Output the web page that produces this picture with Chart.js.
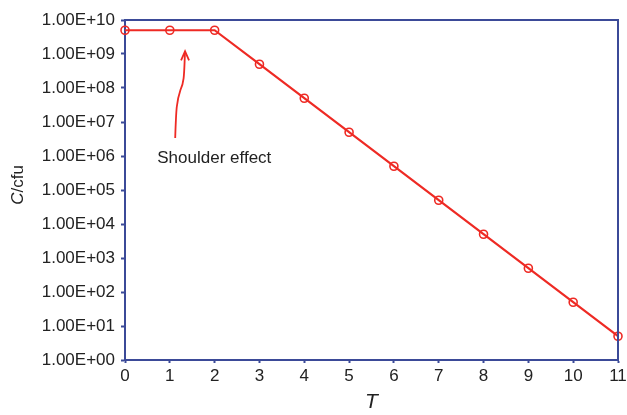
<!DOCTYPE html>
<html>
<head>
<meta charset="utf-8">
<script src="https://cdn.jsdelivr.net/npm/chart.js@4/dist/chart.umd.min.js"></script>
<style>
  html, body { margin: 0; padding: 0; background: #fff; }
  #wrap { width: 627px; height: 415px; }
</style>
</head>
<body>
<div id="wrap"><canvas id="survivalChart"></canvas></div>
<script>
// данные графика
const times = [0, 1, 2, 3, 4, 5, 6, 7, 8, 9, 10, 11];
const counts = [5e9, 5e9, 5e9, 5e8, 5e7, 5e6, 5e5, 5e4, 5e3, 5e2, 5e1, 5e0];
const yTickValues = [1e0, 1e1, 1e2, 1e3, 1e4, 1e5, 1e6, 1e7, 1e8, 1e9, 1e10];
const xTickValues = [0, 1, 2, 3, 4, 5, 6, 7, 8, 9, 10, 11];
const noteText = 'Shoulder effect';

const axisColor = '#3b4a98';
const lineColor = '#ee2a24';
const fontFamily = '"Liberation Sans", Arial, sans-serif';

// рамка, подписи осей и стрелка
const extras = {
  id: 'extras',
  afterDraw(chart) {
    const ctx = chart.ctx;
    const a = chart.chartArea;
    const xs = chart.scales.x, ys = chart.scales.y;
    ctx.save();
    ctx.strokeStyle = axisColor;
    ctx.lineWidth = 2;
    ctx.beginPath();
    ctx.moveTo(a.left, a.top);
    ctx.lineTo(a.right, a.top);
    ctx.lineTo(a.right, a.bottom);
    ctx.stroke();

    ctx.fillStyle = '#222';
    // подпись оси X
    ctx.font = 'italic 21px ' + fontFamily;
    ctx.textAlign = 'center';
    ctx.textBaseline = 'middle';
    ctx.fillText('T', (a.left + a.right) / 2, 402);

    // подпись оси Y: C курсивом
    ctx.translate(18, 185);
    ctx.rotate(-Math.PI / 2);
    ctx.font = 'italic 17px ' + fontFamily;
    const wC = ctx.measureText('C').width;
    ctx.font = '17px ' + fontFamily;
    const wRest = ctx.measureText('/cfu').width;
    const start = -(wC + wRest) / 2;
    ctx.textAlign = 'left';
    ctx.font = 'italic 17px ' + fontFamily;
    ctx.fillText('C', start, 0);
    ctx.font = '17px ' + fontFamily;
    ctx.fillText('/cfu', start + wC, 0);
    ctx.setTransform(1, 0, 0, 1, 0, 0);

    // аннотация
    ctx.font = '17px ' + fontFamily;
    ctx.textAlign = 'left';
    ctx.fillText(noteText, xs.getPixelForValue(0.72), ys.getPixelForValue(8.5e5));

    const x0 = xs.getPixelForValue(1.12), y0 = ys.getPixelForValue(3.4e6);
    const xc = xs.getPixelForValue(1.24), yc = ys.getPixelForValue(9e7);
    const x1 = xs.getPixelForValue(1.34), y1 = ys.getPixelForValue(1.2e9);
    ctx.strokeStyle = lineColor;
    ctx.lineWidth = 1.8;
    ctx.beginPath();
    ctx.moveTo(x0, y0);
    ctx.bezierCurveTo(x0 + 1, y0 - 30, xc - 4, yc + 12, xc, yc);
    ctx.bezierCurveTo(xc + 4, yc - 8, x1 - 1, y1 + 20, x1, y1);
    ctx.stroke();
    ctx.beginPath();
    ctx.moveTo(x1 - 4, y1 + 9);
    ctx.lineTo(x1, y1);
    ctx.lineTo(x1 + 4, y1 + 9);
    ctx.stroke();
    ctx.restore();
  }
};

const ctx = document.getElementById('survivalChart').getContext('2d');
new Chart(ctx, {
  type: 'line',
  data: {
    datasets: [{
      data: times.map((t, i) => ({ x: t, y: counts[i] })),
      borderColor: lineColor,
      borderWidth: 2.2,
      pointStyle: 'circle',
      pointRadius: 4,
      pointBorderWidth: 1.6,
      pointBorderColor: lineColor,
      pointBackgroundColor: 'rgba(0,0,0,0)',
      tension: 0,
      clip: false
    }]
  },
  options: {
    responsive: true,
    maintainAspectRatio: false,
    animation: false,
    layout: { padding: { top: 20, right: 9, left: 0, bottom: 0 } },
    plugins: { legend: { display: false }, tooltip: { enabled: false } },
    scales: {
      x: {
        type: 'linear',
        min: 0,
        max: 11,
        afterBuildTicks: axis => { axis.ticks = xTickValues.map(v => ({ value: v })); },
        afterFit: axis => { axis.height = 55; axis.paddingRight = 0; axis.paddingLeft = 0; },
        grid: { drawOnChartArea: false, drawTicks: true, tickLength: 3, tickWidth: 2, color: axisColor },
        border: { color: axisColor, width: 2 },
        ticks: { color: '#222', font: { family: fontFamily, size: 17 }, padding: 3, maxRotation: 0 }
      },
      y: {
        type: 'logarithmic',
        min: 1,
        max: 1e10,
        afterBuildTicks: axis => { axis.ticks = yTickValues.map(v => ({ value: v })); },
        afterFit: axis => { axis.width = 125; axis.paddingTop = 0; axis.paddingBottom = 0; },
        grid: { drawOnChartArea: false, drawTicks: true, tickLength: 4, tickWidth: 2, color: axisColor },
        border: { color: axisColor, width: 2 },
        ticks: {
          color: '#222',
          font: { family: fontFamily, size: 17 },
          padding: 6,
          callback: v => {
            const e = Math.round(Math.log10(v));
            return '1.00E+' + String(e).padStart(2, '0');
          }
        }
      }
    }
  },
  plugins: [extras]
});
</script>
</body>
</html>
